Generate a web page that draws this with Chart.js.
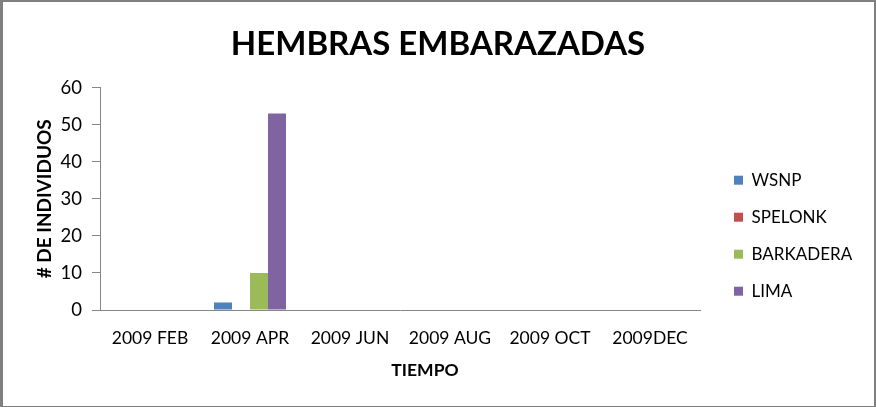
<!DOCTYPE html>
<html>
<head>
<meta charset="utf-8">
<script src="https://cdn.jsdelivr.net/npm/chart.js@4"></script>
<style>
  html, body { margin: 0; padding: 0; background: #fff; }
  #wrap { position: relative; width: 876px; height: 407px; }
  #frame {
    position: absolute; left: 0; top: 0; right: 0; bottom: 0;
    border-style: solid; border-color: #7f7f7f;
    border-width: 2px 2px 1px 3px;
    pointer-events: none;
  }
</style>
</head>
<body>
<div id="wrap">
  <canvas id="myChart" width="876" height="407"></canvas>
  <div id="frame"></div>
</div>
<script>
const months = ['2009 FEB', '2009 APR', '2009 JUN', '2009 AUG', '2009 OCT', '2009DEC'];
const wsnp = [0, 2, 0, 0, 0, 0];
const spelonk = [0, 0, 0, 0, 0, 0];
const barkadera = [0, 10, 0, 0, 0, 0];
const lima = [0, 53, 0, 0, 0, 0];
const yTicks = [0, 10, 20, 30, 40, 50, 60];
const xTitle = 'TIEMPO';

const FONT = 'Lato, Calibri, sans-serif';
const AXIS_GREY = '#868686';

// keep the legend column the same width as in the original
const legendWidth = {
    id: 'legendWidth',
    beforeLayout(chart) {
        const legend = chart.legend;
        if (legend && !legend._fixedWidth) {
            const fit = legend.fit.bind(legend);
            legend.fit = function () { fit(); this.width = 162; };
            legend._fixedWidth = true;
        }
    }
};

// x axis title sits a bit right of the plot centre in the original
const xAxisTitle = {
    id: 'xAxisTitle',
    afterDraw(chart) {
        const { ctx, chartArea } = chart;
        ctx.save();
        ctx.font = `bold 17.5px ${FONT}`;
        ctx.fillStyle = '#000';
        ctx.textAlign = 'center';
        ctx.textBaseline = 'middle';
        ctx.fillText(xTitle, (chartArea.left + chartArea.right) / 2 + 25, chartArea.bottom + 60);
        ctx.restore();
    }
};

new Chart('myChart', {
    type: 'bar',
    data: {
        labels: months,
        datasets: [
            { label: 'WSNP', data: wsnp, backgroundColor: '#4F81BD' },
            { label: 'SPELONK', data: spelonk, backgroundColor: '#C0504D' },
            { label: 'BARKADERA', data: barkadera, backgroundColor: '#9BBB59' },
            { label: 'LIMA', data: lima, backgroundColor: '#8064A2' }
        ]
    },
    options: {
        responsive: false,
        animation: false,
        layout: { padding: { left: 0, right: 0, top: 0, bottom: 24 } },
        datasets: { bar: { categoryPercentage: 0.72, barPercentage: 1, borderWidth: 0 } },
        plugins: {
            title: {
                display: true,
                text: 'HEMBRAS EMBARAZADAS',
                color: '#000',
                font: { family: FONT, size: 33, weight: 'bold' },
                padding: { top: 25, bottom: 23 }
            },
            legend: {
                position: 'right',
                title: { display: true, text: '', font: { size: 12 }, padding: { top: 74, bottom: 0 } },
                labels: {
                    color: '#000',
                    font: { family: FONT, size: 17 },
                    boxWidth: 9,
                    boxHeight: 9,
                    padding: 20
                }
            },
            tooltip: { enabled: false }
        },
        scales: {
            x: {
                grid: { display: false, drawTicks: false },
                border: { display: true, color: AXIS_GREY, width: 1 },
                ticks: { color: '#000', font: { family: FONT, size: 17.5 }, padding: 18, maxRotation: 0 },
                title: { display: false },
                afterFit: s => { s.height = 73; }
            },
            y: {
                min: 0,
                max: 60,
                afterBuildTicks: s => { s.ticks = yTicks.map(v => ({ value: v })); },
                grid: { display: true, drawOnChartArea: false, drawTicks: true, tickLength: 8, color: AXIS_GREY },
                border: { display: true, color: AXIS_GREY, width: 1 },
                ticks: { color: '#000', font: { family: FONT, size: 18.5 }, padding: 10 },
                title: {
                    display: true, text: '# DE INDIVIDUOS', color: '#000',
                    font: { family: FONT, size: 19, weight: 'bold' },
                    padding: { top: 33, bottom: 0 }
                },
                afterFit: s => { s.width = 100; }
            },
            spacer: {
                position: 'right',
                display: true,
                grid: { display: false },
                border: { display: false },
                ticks: { display: false },
                afterFit: s => { s.width = 14; }
            }
        }
    },
    plugins: [legendWidth, xAxisTitle]
});
</script>
</body>
</html>
